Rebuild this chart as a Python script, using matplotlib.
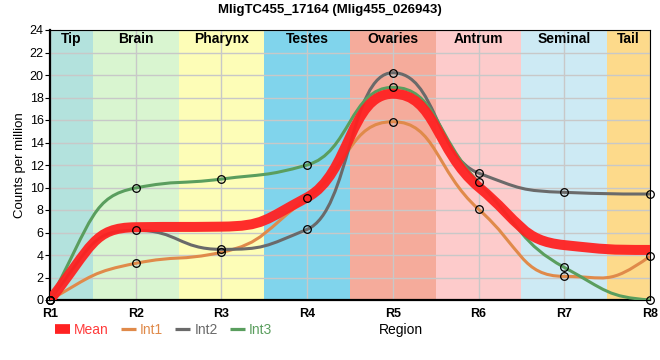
import matplotlib
matplotlib.use("Agg")
import matplotlib.pyplot as plt
import numpy as np
from matplotlib.path import Path
from matplotlib.patches import PathPatch
from matplotlib.lines import Line2D

plt.rcParams['font.family'] = ['Liberation Sans', 'DejaVu Sans']

# ---- data ----
regions = ["R1", "R2", "R3", "R4", "R5", "R6", "R7", "R8"]
band_names = ["Tip", "Brain", "Pharynx", "Testes", "Ovaries", "Antrum", "Seminal", "Tail"]
band_colors = ["#b3e2dd", "#d9f5d0", "#fdfdb7", "#80d4ec", "#f5ab9b", "#fdcbcb", "#cdeaf4", "#fdda8b"]

mean_vals = [0, 6.47, 6.52, 9.12, 18.33, 10.05, 4.88, 4.45]
int1_vals = [0, 3.26, 4.24, 9.04, 15.85, 8.07, 2.1, 3.88]
int2_vals = [0, 6.2, 4.5, 6.28, 20.2, 11.28, 9.57, 9.42]
int3_vals = [0, 9.96, 10.75, 12.0, 18.9, 10.46, 2.9, 0.0]

series_names = ["Mean", "Int1", "Int2", "Int3"]
series_colors = ["#ff2222", "#e08a4a", "#6a6a6a", "#5a9e5e"]
text_colors = ["#ff3b3b", "#e08a4a", "#6a6a6a", "#5a9e5e"]


def tangents(y):
    y = np.asarray(y, float)
    d = np.diff(y)
    n = len(y)
    m = np.zeros(n)
    for k in range(1, n - 1):
        if d[k - 1] * d[k] > 0:
            m[k] = 2.0 / (1.0 / d[k - 1] + 1.0 / d[k])
    def end(d0, d1):
        mm = (3 * d0 - d1) / 2.0
        if np.sign(mm) != np.sign(d0):
            return 0.0
        if np.sign(d0) != np.sign(d1) and abs(mm) > abs(3 * d0):
            return 3 * d0
        return mm
    m[0] = end(d[0], d[1])
    m[-1] = end(d[-1], d[-2])
    return m


def smooth_path(x, y, c=0.5):
    x = np.asarray(x, float)
    y = np.asarray(y, float)
    m = tangents(y)
    verts = [(x[0], y[0])]
    codes = [Path.MOVETO]
    for k in range(len(x) - 1):
        h = x[k + 1] - x[k]
        verts += [(x[k] + c * h, y[k] + m[k] * c * h),
                  (x[k + 1] - c * h, y[k + 1] - m[k + 1] * c * h),
                  (x[k + 1], y[k + 1])]
        codes += [Path.CURVE4] * 3
    return Path(verts, codes)


fig = plt.figure(figsize=(6.6, 3.6), dpi=100)
ax = fig.add_axes([50 / 660, 60 / 360, 600 / 660, 270 / 360])
xpos = np.arange(len(regions))
ax.set_xlim(0, len(regions) - 1)
ax.set_ylim(0, 24)

# bands
for i, (nm, col) in enumerate(zip(band_names, band_colors)):
    lo = max(i - 0.5, 0)
    hi = min(i + 0.5, len(regions) - 1)
    ax.axvspan(lo, hi, color=col, zorder=0, lw=0)
    ax.text((lo + hi) / 2, 0.967, nm, transform=ax.get_xaxis_transform(),
            ha="center", va="center", fontsize=10, fontweight="bold", zorder=10)

ax.set_yticks(np.arange(0, 25, 2))
ax.set_xticks(xpos)
ax.set_xticklabels(regions)
ax.grid(True, color="#c8c8c8", lw=1.0, zorder=0.5)
ax.set_axisbelow(True)

# lines
all_vals = [mean_vals, int1_vals, int2_vals, int3_vals]
widths = [7.2, 2.2, 2.2, 2.2]
zs = [4, 3, 3, 3]
for vals, col, lw, z in zip(all_vals, series_colors, widths, zs):
    p = PathPatch(smooth_path(xpos, vals), fill=False, edgecolor=col, lw=lw,
                  zorder=z, capstyle="butt", joinstyle="round",
                  alpha=0.95 if lw > 5 else 1.0)
    ax.add_patch(p)

for vals in all_vals[1:]:
    ax.plot(xpos, vals, ls="none", marker="o", ms=5.5, mfc="none", mec="black",
            mew=0.9, zorder=6, clip_on=False)

# spines / ticks
for s in ["top", "right"]:
    ax.spines[s].set_linewidth(0.8)
for s in ["left", "bottom"]:
    ax.spines[s].set_linewidth(1.6)
ax.tick_params(axis="y", length=3.6, width=0.8, pad=1, labelsize=9)
ax.tick_params(axis="x", length=0, pad=6, labelsize=9)
for t in ax.get_xticklabels():
    t.set_fontweight("bold")

ax.set_ylabel("Counts per million", fontsize=9.5)
ax.yaxis.set_label_coords(-0.04, 0.5)
ax.set_xlabel("Region", fontsize=10)
ax.xaxis.set_label_coords(351 / 600 - 0.0, -30 / 270)
ax.xaxis.label.set_va("center")
ax.xaxis.label.set_ha("center")

fig.text(0.5, 1 - 10 / 360, "MligTC455_17164 (Mlig455_026943)", ha="center", va="center",
         fontsize=9.5, fontweight="bold")

handles = [Line2D([], [], color=series_colors[0], lw=7, solid_capstyle="butt")]
handles += [Line2D([], [], color=c, lw=2.3, solid_capstyle="butt") for c in series_colors[1:]]
leg = fig.legend(handles, series_names, loc="center left",
                 bbox_to_anchor=(55 / 660, 1 - 330 / 360), ncol=4, frameon=False,
                 fontsize=10, handlelength=1.08, handletextpad=0.3, columnspacing=0.86,
                 borderpad=0, borderaxespad=0)
for t, c in zip(leg.get_texts(), text_colors):
    t.set_color(c)

fig.savefig("out.png", dpi=100)
